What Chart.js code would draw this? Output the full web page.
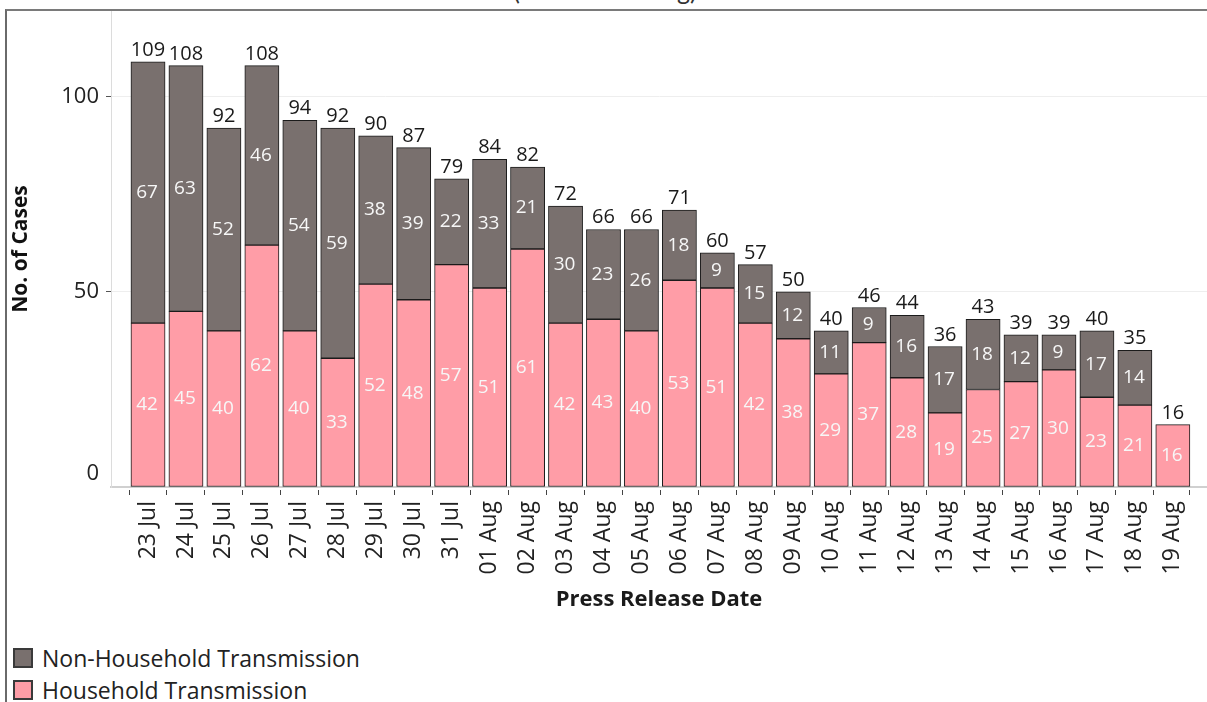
<!DOCTYPE html>
<html>
<head>
<meta charset="utf-8">
<script src="https://cdn.jsdelivr.net/npm/chart.js@4.4.1/dist/chart.umd.min.js"></script>
<style>
html,body{margin:0;padding:0;background:#fff;width:1207px;height:702px;overflow:hidden;font-family:"Open Sans",sans-serif;}
#title{position:absolute;left:0;width:1210px;top:-25px;text-align:center;font-family:Lato,"Liberation Sans",sans-serif;font-size:25px;line-height:30px;color:#333;white-space:nowrap;}
#frame{position:absolute;left:5px;top:9px;width:1220px;height:720px;border-top:2px solid #7a7a7a;border-left:2px solid #6a6a6a;}
#wrap{position:absolute;left:0;top:0;width:1207px;height:625px;}
#legend{position:absolute;left:13px;top:642px;font-size:23px;color:#222;}
.item{display:flex;align-items:center;height:32px;}
.sw{width:16px;height:16px;border:2px solid #3a3a3a;margin-right:9px;}
</style>
</head>
<body>
<div id="title">(23 Jul – 19 Aug)</div>
<div id="frame"></div>
<div id="wrap"><canvas id="c" width="1207" height="625"></canvas></div>
<div id="legend"></div>
<script>
const dates = ['23 Jul','24 Jul','25 Jul','26 Jul','27 Jul','28 Jul','29 Jul','30 Jul','31 Jul',
  '01 Aug','02 Aug','03 Aug','04 Aug','05 Aug','06 Aug','07 Aug','08 Aug','09 Aug','10 Aug',
  '11 Aug','12 Aug','13 Aug','14 Aug','15 Aug','16 Aug','17 Aug','18 Aug','19 Aug'];
const household = [42,45,40,62,40,33,52,48,57,51,61,42,43,40,53,51,42,38,29,37,28,19,25,27,30,23,21,16];
const nonHousehold = [67,63,52,46,54,59,38,39,22,33,21,30,23,26,18,9,15,12,11,9,16,17,18,12,9,17,14,null];
const seriesNames = ['Household Transmission','Non-Household Transmission'];
const seriesColors = ['#FF9DA7','#79706E'];
const yTickValues = [0,50,100];

const FONT = '"Open Sans", sans-serif';

const labelPlugin = {
  id: 'segLabels',
  afterDatasetsDraw(chart) {
    const ctx = chart.ctx;
    ctx.save();
    ctx.textAlign = 'center';
    chart.data.datasets.forEach((ds, di) => {
      const meta = chart.getDatasetMeta(di);
      meta.data.forEach((bar, i) => {
        const v = ds.data[i].y;
        if (v == null) return;
        const p = bar.getProps(['x','y','base'], true);
        ctx.font = '19px ' + FONT;
        ctx.fillStyle = '#f7f7f7';
        ctx.textBaseline = 'middle';
        ctx.fillText(String(v), p.x - 1, (p.y + p.base) / 2);
      });
    });
    const xs = chart.scales.x, ys = chart.scales.y;
    ctx.font = '20px ' + FONT;
    ctx.fillStyle = '#1a1a1a';
    ctx.textBaseline = 'alphabetic';
    dates.forEach((d, i) => {
      const total = (household[i] || 0) + (nonHousehold[i] || 0);
      ctx.fillText(String(total), xs.getPixelForValue(i), ys.getPixelForValue(total) - 6);
    });
    ctx.restore();
  }
};

const datasets = [household, nonHousehold].map((arr, k) => ({
  label: seriesNames[k],
  data: arr.map((v, i) => ({x: i, y: v})),
  backgroundColor: seriesColors[k],
  borderColor: '#1b1b1b',
  borderWidth: 1,
  borderSkipped: false,
  categoryPercentage: 1,
  barPercentage: 1
}));

const chart = new Chart(document.getElementById('c'), {
  type: 'bar',
  data: { datasets },
  options: {
    responsive: false,
    animation: false,
    layout: { padding: { left: 7, top: 11, right: 0, bottom: 0 } },
    plugins: { legend: { display: false }, tooltip: { enabled: false } },
    scales: {
      x: {
        type: 'linear', min: -0.975, max: 27.9, stacked: true, offset: false,
        afterFit: s => { s.height = 138; s.paddingLeft = 0; s.paddingRight = 0; s.paddingTop = 0; s.paddingBottom = 0; },
        border: { display: true, color: '#d0d0d0', width: 2 },
        grid: { display: true, drawOnChartArea: false, drawTicks: true, tickLength: 8,
                tickColor: '#444', tickWidth: 1, tickBorderDash: [0, 2, 6, 100] },
        ticks: { stepSize: 1, autoSkip: false, maxRotation: 90, minRotation: 90, padding: 6,
                 color: '#222', font: { family: FONT, size: 23 },
                 callback: v => (Number.isInteger(v) && dates[v] !== undefined) ? dates[v] : '' },
        title: { display: true, text: 'Press Release Date', color: '#1a1a1a',
                 font: { family: FONT, size: 22, weight: 'bold' }, padding: { top: 4, bottom: 12 } }
      },
      y: {
        stacked: true, min: 0, max: 122,
        afterFit: s => { s.width = 104; s.paddingTop = 0; s.paddingBottom = 0; s.paddingLeft = 0; s.paddingRight = 0; },
        afterBuildTicks: s => { s.ticks = yTickValues.map(v => ({ value: v })); },
        border: { display: true, color: '#dcdcdc', width: 1 },
        grid: { color: c => (c.tick && c.tick.value === 0) ? 'rgba(0,0,0,0)' : '#eeeeee',
                tickColor: c => (c.tick && c.tick.value === 0) ? 'rgba(0,0,0,0)' : '#555',
                tickLength: 8, tickBorderDash: [0, 3, 5, 100] },
        ticks: { padding: 4, color: '#222', font: { family: FONT, size: 22 },
                 callback: v => v === 0 ? ['0', ''] : String(v) },
        title: { display: true, text: 'No. of Cases', color: '#111',
                 font: { family: FONT, size: 21, weight: 'bold' }, padding: { top: 1, bottom: 2 } }
      }
    }
  },
  plugins: [labelPlugin]
});

const legend = document.getElementById('legend');
chart.data.datasets.slice().reverse().forEach(ds => {
  const item = document.createElement('div');
  item.className = 'item';
  const sw = document.createElement('span');
  sw.className = 'sw';
  sw.style.background = ds.backgroundColor;
  const t = document.createElement('span');
  t.textContent = ds.label;
  item.appendChild(sw); item.appendChild(t);
  legend.appendChild(item);
});
</script>
</body>
</html>
